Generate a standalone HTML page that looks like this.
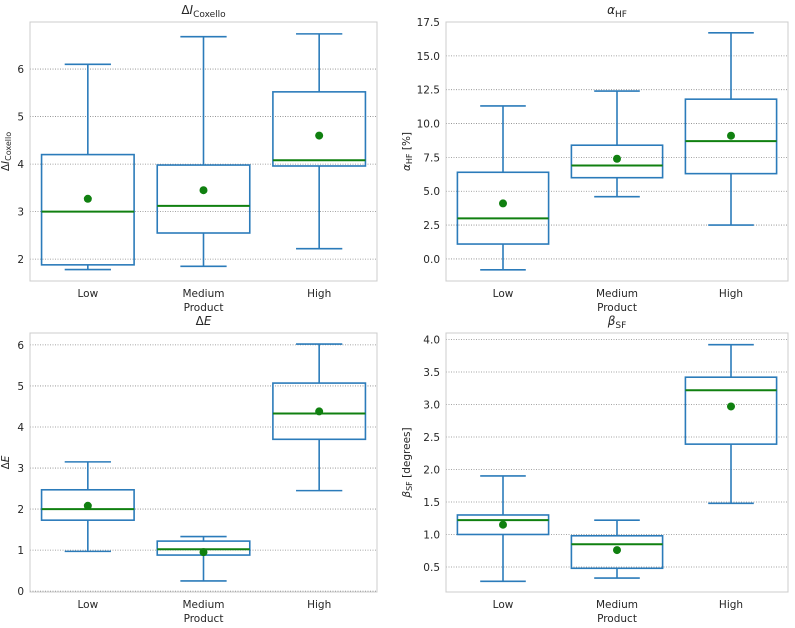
<!DOCTYPE html>
<html><head><meta charset="utf-8"><style>
body{margin:0;background:#fff;}
svg text{font-family:"DejaVu Sans","Liberation Sans",sans-serif;fill:#262626;}
</style></head><body>
<svg id="fig" width="795" height="623" viewBox="0 0 795 623" xmlns="http://www.w3.org/2000/svg"></svg>
<script>
const categories = ["Low","Medium","High"];
// [whiskerLow, q1, median, q3, whiskerHigh, mean]
const coxelloStats = [[1.78,1.88,3.0,4.2,6.1,3.27],[1.85,2.55,3.12,3.98,6.68,3.45],[2.22,3.96,4.08,5.52,6.74,4.6]];
const alphaStats = [[-0.8,1.1,3.0,6.4,11.3,4.1],[4.6,6.0,6.9,8.4,12.4,7.4],[2.5,6.3,8.7,11.8,16.7,9.1]];
const deltaEStats = [[0.97,1.73,2.0,2.47,3.15,2.08],[0.25,0.88,1.02,1.22,1.33,0.95],[2.45,3.7,4.33,5.07,6.02,4.38]];
const betaStats = [[0.28,1.0,1.22,1.3,1.9,1.15],[0.33,0.48,0.85,0.98,1.22,0.76],[1.48,2.39,3.22,3.42,3.92,2.97]];
const coxelloTicks = [2,3,4,5,6];
const alphaTicks = [0,2.5,5,7.5,10,12.5,15,17.5];
const deltaETicks = [0,1,2,3,4,5,6];
const betaTicks = [0.5,1,1.5,2,2.5,3,3.5,4];

const NS="http://www.w3.org/2000/svg";
const fig=document.getElementById('fig');
function el(tag,attrs,parent){const e=document.createElementNS(NS,tag);for(const k in attrs)e.setAttribute(k,attrs[k]);(parent||fig).appendChild(e);return e;}

const panels=[
 {name:'coxello',stats:coxelloStats,ticks:coxelloTicks,dec:0,x0:30,x1:377,y0:22,y1:281,ymin:1.54,ymax:6.99,title:'Δ<tspan font-style="italic">I</tspan><tspan font-size="9" dy="3">Coxello</tspan>',ylab:'Δ<tspan font-style="italic">I</tspan><tspan font-size="8" dy="2">Coxello</tspan>',ylx:9},
 {name:'alpha-hf',stats:alphaStats,ticks:alphaTicks,dec:1,x0:446,x1:788,y0:22,y1:281,ymin:-1.63,ymax:17.5,title:'<tspan font-style="italic">α</tspan><tspan font-size="9" dy="3">HF</tspan>',ylab:'<tspan font-style="italic">α</tspan><tspan font-size="8" dy="2">HF</tspan><tspan dy="-2"> [%]</tspan>',ylx:410},
 {name:'delta-e',stats:deltaEStats,ticks:deltaETicks,dec:0,x0:30,x1:377,y0:333,y1:592,ymin:-0.02,ymax:6.29,title:'Δ<tspan font-style="italic">E</tspan>',ylab:'Δ<tspan font-style="italic">E</tspan>',ylx:9},
 {name:'beta-sf',stats:betaStats,ticks:betaTicks,dec:1,x0:446,x1:788,y0:333,y1:592,ymin:0.115,ymax:4.1,title:'<tspan font-style="italic">β</tspan><tspan font-size="9" dy="3">SF</tspan>',ylab:'<tspan font-style="italic">β</tspan><tspan font-size="8" dy="2">SF</tspan><tspan dy="-2"> [degrees]</tspan>',ylx:410}
];
const blue='#2b7bba', green='#108010';
panels.forEach(p=>{
  const g=el('g',{});
  
  
  const ys=v=>p.y1-(v-p.ymin)/(p.ymax-p.ymin)*(p.y1-p.y0);
  const step=(p.x1-p.x0)/categories.length;
  const xs=i=>p.x0+step*(i+0.5);
  p.ticks.forEach(t=>{
    const y=ys(t);
    const gl=el('line',{x1:p.x0,x2:p.x1,y1:y,y2:y,stroke:'#888','stroke-width':0.8,'stroke-dasharray':'1,1.5'},g);
    
    
    const tl=el('text',{x:p.x0-6,y:y+4,'font-size':10.5,'text-anchor':'end'},g);
    tl.textContent=t.toFixed(p.dec);
    
    
  });
  const fr=el('rect',{x:p.x0,y:p.y0,width:p.x1-p.x0,height:p.y1-p.y0,fill:'none',stroke:'#ccc','stroke-width':1},g);
  
  
  p.stats.forEach((s,i)=>{
    const cx=xs(i),bw=step*0.8,cw=step*0.4;
    const bg=el('g',{},g);
    
    
    const L={stroke:blue,'stroke-width':1.6,fill:'none'};
    el('line',Object.assign({x1:cx,x2:cx,y1:ys(s[0]),y2:ys(s[1])},L),bg);
    el('line',Object.assign({x1:cx,x2:cx,y1:ys(s[3]),y2:ys(s[4])},L),bg);
    el('line',Object.assign({x1:cx-cw/2,x2:cx+cw/2,y1:ys(s[0]),y2:ys(s[0])},L),bg);
    el('line',Object.assign({x1:cx-cw/2,x2:cx+cw/2,y1:ys(s[4]),y2:ys(s[4])},L),bg);
    el('rect',Object.assign({x:cx-bw/2,y:ys(s[3]),width:bw,height:ys(s[1])-ys(s[3])},L),bg);
    el('line',{x1:cx-bw/2,x2:cx+bw/2,y1:ys(s[2]),y2:ys(s[2]),stroke:green,'stroke-width':2},bg);
    el('circle',{cx:cx,cy:ys(s[5]),r:4,fill:green},bg);
    const xl=el('text',{x:cx,y:p.y1+16,'font-size':10.5,'text-anchor':'middle'},g);
    xl.textContent=categories[i];
    
    
  });
  const xt=el('text',{x:(p.x0+p.x1)/2,y:p.y1+30,'font-size':10.5,'text-anchor':'middle'},g);
  xt.textContent='Product';
  
  
  const tt=el('text',{x:(p.x0+p.x1)/2,y:p.y0-8,'font-size':12,'text-anchor':'middle'},g);
  tt.innerHTML=p.title;
  
  
  const yl=el('text',{x:0,y:0,'font-size':10.5,'text-anchor':'middle',transform:`translate(${p.ylx},${(p.y0+p.y1)/2}) rotate(-90)`},g);
  yl.innerHTML=p.ylab;
  
  
});
</script>
</body></html>
